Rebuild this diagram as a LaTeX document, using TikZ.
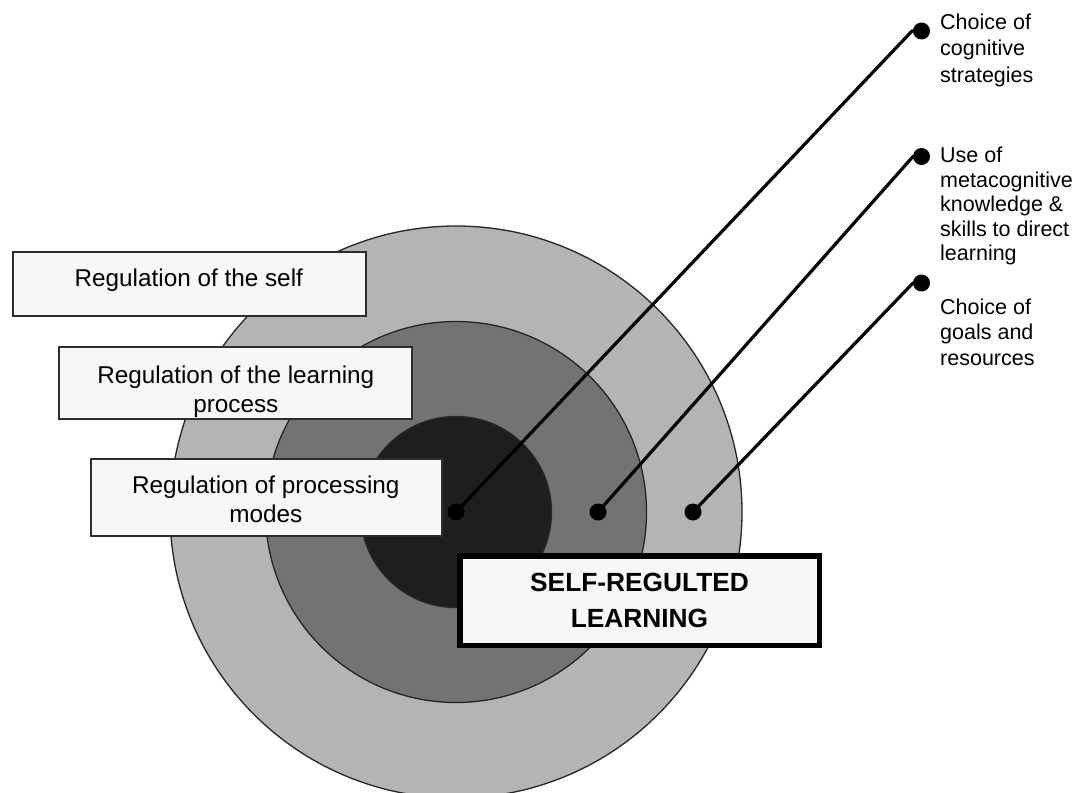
\documentclass[tikz,border=0pt]{standalone}
\usepackage{fontspec}
\setmainfont{Liberation Sans}
\definecolor{ringA}{RGB}{180,180,180}
\definecolor{ringB}{RGB}{115,115,115}
\definecolor{ringC}{RGB}{30,30,30}
\definecolor{boxfill}{RGB}{247,247,247}
\definecolor{boxline}{RGB}{45,45,45}
\begin{document}
\begin{tikzpicture}[x=1pt,y=-1pt,
  ring/.style={draw=black!85, line width=1.3pt},
  regbox/.style={draw=boxline, line width=1.8pt, fill=boxfill, inner sep=0pt},
  regtext/.style={font=\fontsize{24.3}{28.8}\selectfont, align=center, inner sep=0pt, anchor=north},
  dot/.style={circle, fill=black, inner sep=0pt, minimum size=17pt},
  conn/.style={line width=3.2pt, line join=round},
  sidetext/.style={align=left, anchor=north west, inner sep=0pt},
  srlbox/.style={draw=black, line width=5.5pt, fill=boxfill, inner sep=0pt,
    minimum width=359.5pt, minimum height=89.5pt, align=center,
    font=\fontsize{26.3}{36}\selectfont\bfseries}
]
\useasboundingbox (0,0) rectangle (1078,792);
\fill[white] (0,0) rectangle (1078,792);

% concentric rings
\path[ring, fill=ringA] (456,512) circle (286pt);
\path[ring, fill=ringB] (456,512) circle (190.5pt);
\path[ring, fill=ringC] (456,512) circle (95.5pt);

% regulation boxes
\node[regbox, minimum width=353pt, minimum height=64pt] (b1) at (189.5,284) {};
\node[regtext] (t1) at (188.8,268.5) {Regulation of the self};
\node[regbox, minimum width=353pt, minimum height=72pt] (b2) at (235.5,383) {};
\node[regtext] (t2) at (235.8,366) {Regulation of the learning\\process};
\node[regbox, minimum width=351pt, minimum height=77pt] (b3) at (266.3,497.5) {};
\node[regtext] (t3) at (265.8,476) {Regulation of processing\\modes};

% dots
\node[dot] (d1) at (456,512) {};
\node[dot] (d2) at (598,512) {};
\node[dot] (d3) at (693,512) {};
\node[dot] (e1) at (921.5,31) {};
\node[dot] (e2) at (921.5,156.5) {};
\node[dot] (e3) at (921.5,283) {};
\coordinate (k1) at (912,31);
\coordinate (k2) at (913,156.5);
\coordinate (k3) at (913,283);

% connectors
\draw[conn] (d1.center) -- (k1) -- (e1.center);
\draw[conn] (d2.center) -- (k2) -- (e2.center);
\draw[conn] (d3.center) -- (k3) -- (e3.center);

% side labels
\node[sidetext, font=\fontsize{21.5}{26.2}\selectfont] (s1) at (940,14) {Choice of\\cognitive\\strategies};
\node[sidetext, font=\fontsize{21.5}{24.6}\selectfont] (s2) at (940,146.7) {Use of\\metacognitive\\knowledge \&\\skills to direct\\learning};
\node[sidetext, font=\fontsize{21.5}{25.8}\selectfont] (s3) at (940,298.3) {Choice of\\goals and\\resources};

% central title box
\node[srlbox] (srl) at (639.5,600.5) {SELF-REGULTED\\LEARNING};
\end{tikzpicture}
\end{document}
